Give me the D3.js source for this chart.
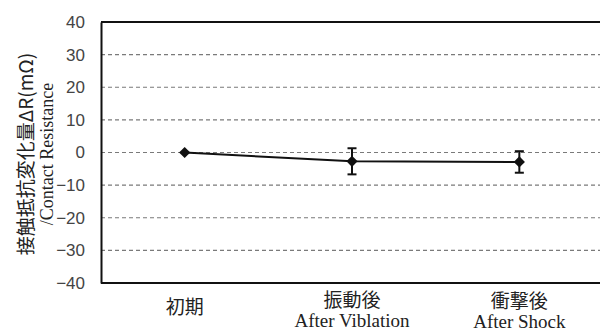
<!DOCTYPE html>
<html>
<head>
<meta charset="utf-8">
<script src="https://cdn.jsdelivr.net/npm/d3@7"></script>
<style>
  html, body { margin: 0; padding: 0; background: #fff; }
  svg { display: block; }
</style>
</head>
<body>
<svg id="chart" width="600" height="333"></svg>
<script>
// Contact resistance change before / after environmental tests
const categoriesJa = ["初期", "振動後", "衝撃後"];
const categoriesEn = ["", "After Viblation", "After Shock"];
const meanValues = [0, -2.7, -2.9];
const errorValues = [0, 4.0, 3.3];
const yTicks = [-40, -30, -20, -10, 0, 10, 20, 30, 40];

const W = 600, H = 333;
const margin = { left: 101, top: 22, right: -3, bottom: 50 };
const svg = d3.select("#chart");

const x = d3.scalePoint()
  .domain(categoriesJa)
  .range([margin.left, W - margin.right])
  .padding(0.5);

const y = d3.scaleLinear()
  .domain([-40, 40])
  .range([H - margin.bottom, margin.top]);

const serif = "'Liberation Serif', 'Times New Roman', serif";
const sans = "'Liberation Sans', Arial, sans-serif";
const cjk = "'Noto Sans CJK JP', sans-serif";

// Dashed gridlines
svg.append("g")
  .selectAll("line")
  .data(yTicks.filter(d => d > -40 && d < 40))
  .join("line")
  .attr("x1", margin.left)
  .attr("x2", W)
  .attr("y1", d => y(d))
  .attr("y2", d => y(d))
  .attr("stroke", "#7a7a7a")
  .attr("stroke-width", 1.2)
  .attr("stroke-dasharray", "4,3");

// Frame: top, bottom, left
[40, -40].forEach(v => {
  svg.append("line")
    .attr("x1", margin.left).attr("x2", W)
    .attr("y1", y(v)).attr("y2", y(v))
    .attr("stroke", "#111").attr("stroke-width", 2);
});

// Y axis
const yAxis = d3.axisLeft(y).tickValues(yTicks).tickSize(0).tickPadding(16);
const gy = svg.append("g")
  .attr("transform", `translate(${margin.left},0)`)
  .call(yAxis);
gy.select(".domain").attr("stroke", "#111").attr("stroke-width", 2);
gy.selectAll("text")
  .attr("font-family", sans)
  .attr("font-size", 17)
  .attr("fill", "#444")
  .text(d => d < 0 ? "−" + Math.abs(d) : d);

// Y axis title (two lines)
svg.append("text")
  .attr("transform", "translate(24,154) rotate(-90)")
  .attr("text-anchor", "middle")
  .attr("dominant-baseline", "central")
  .attr("font-family", cjk)
  .attr("font-size", 19)
  .attr("fill", "#222")
  .text("接触抵抗変化量ΔR(mΩ)");

svg.append("text")
  .attr("transform", "translate(47,154) rotate(-90)")
  .attr("text-anchor", "middle")
  .attr("dominant-baseline", "central")
  .attr("font-family", serif)
  .attr("font-size", 18)
  .attr("fill", "#222")
  .text("/Contact  Resistance");

// Category labels
const labels = svg.append("g");
categoriesJa.forEach((c, i) => {
  const hasEn = categoriesEn[i] !== "";
  labels.append("text")
    .attr("x", x(c))
    .attr("y", hasEn ? 298 + (i === 2 ? 1 : 0) : 305)
    .attr("text-anchor", "middle")
    .attr("dominant-baseline", "central")
    .attr("font-family", cjk)
    .attr("font-size", 19)
    .attr("fill", "#222")
    .text(c);
  if (hasEn) {
    labels.append("text")
      .attr("x", x(c))
      .attr("y", 320 + (i === 2 ? 1 : 0))
      .attr("text-anchor", "middle")
      .attr("dominant-baseline", "central")
      .attr("font-family", serif)
      .attr("font-size", 19)
      .attr("fill", "#222")
      .text(categoriesEn[i]);
  }
});

const points = categoriesJa.map((c, i) => ({ c, v: meanValues[i], e: errorValues[i] }));

// Series line
svg.append("path")
  .datum(points)
  .attr("fill", "none")
  .attr("stroke", "#111")
  .attr("stroke-width", 2)
  .attr("d", d3.line().x(d => x(d.c)).y(d => y(d.v)));

// Error bars
const eb = svg.append("g").attr("stroke", "#111").attr("stroke-width", 2);
points.filter(d => d.e > 0).forEach(d => {
  const cx = x(d.c);
  eb.append("line").attr("x1", cx).attr("x2", cx).attr("y1", y(d.v + d.e)).attr("y2", y(d.v - d.e));
  eb.append("line").attr("x1", cx - 4.5).attr("x2", cx + 4.5).attr("y1", y(d.v + d.e)).attr("y2", y(d.v + d.e));
  eb.append("line").attr("x1", cx - 4.5).attr("x2", cx + 4.5).attr("y1", y(d.v - d.e)).attr("y2", y(d.v - d.e));
});

// Diamond markers
svg.append("g")
  .selectAll("path")
  .data(points)
  .join("path")
  .attr("transform", d => `translate(${x(d.c)},${y(d.v)})`)
  .attr("d", d3.symbol().type(d3.symbolDiamond2).size(80))
  .attr("fill", "#111");
</script>
</body>
</html>
